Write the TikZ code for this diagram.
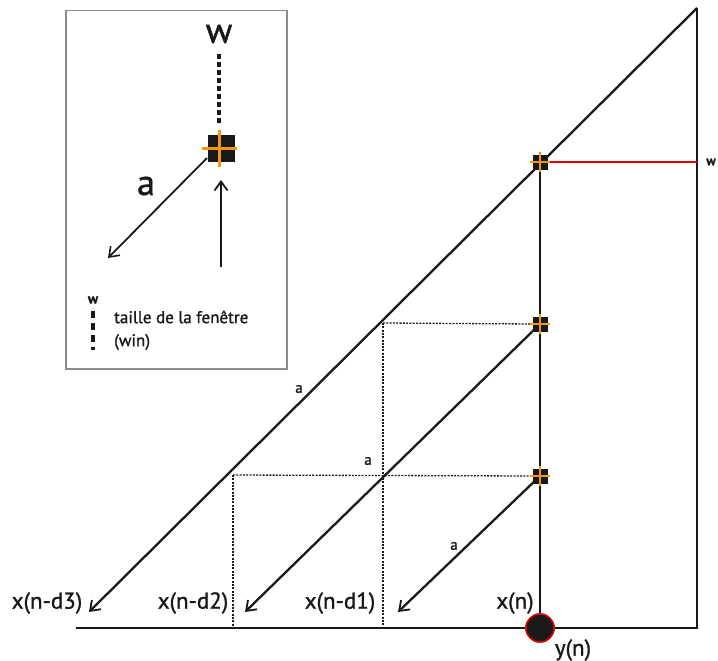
\documentclass[tikz,border=0pt]{standalone}
\usepackage{fontspec}
\setmainfont{PT Sans}[FakeBold=1.2]
\usetikzlibrary{arrows.meta}
\definecolor{mkorange}{RGB}{245,150,20}
\definecolor{ink}{RGB}{25,25,25}
\definecolor{boxgray}{RGB}{140,140,140}
\tikzset{
  mainline/.style={line width=2.3pt, ink},
  arr/.style={mainline, -{Straight Barb[length=9pt,width=13pt,line width=1.8pt]}},
  dotline/.style={line width=1.3pt, ink, dash pattern=on 2pt off 1.3pt},
  sq/.style={rectangle, fill=ink, minimum size=15pt, inner sep=0pt},
  crossline/.style={mkorange, line width=2pt},
  lab/.style={font=\fontsize{23}{23}\selectfont, text=ink, inner sep=0pt},
  smalla/.style={font=\fontsize{15}{15}\selectfont, text=ink, inner sep=0pt},
}
\begin{document}
\begin{tikzpicture}[x=1pt,y=-1pt]
\useasboundingbox (0,0) rectangle (718,661);
% ---------- inset ----------
\node[draw=boxgray, line width=1.5pt, minimum width=221pt, minimum height=358pt, anchor=north west, inner sep=0pt] (inset) at (65,10) {};
\node[font=\fontsize{36}{36}\selectfont, text=ink, inner sep=0pt] (iw) at (219,34) {w};
\node[sq, minimum size=27pt] (isq) at (221,148) {};
\coordinate (idot1) at (219,54);
\coordinate (idot2) at (219,124);
\draw[ink, line width=3.2pt, dash pattern=on 5pt off 3pt] (idot1) -- (idot2);
\coordinate (iastart) at (207,158);
\coordinate (iaend) at (108,258);
\draw[ink, line width=1.8pt, -{Straight Barb[length=9pt,width=13pt,line width=1.6pt]}] (iastart) -- (iaend);
\coordinate (ivstart) at (221,267);
\coordinate (ivend) at (221,180);
\draw[ink, line width=2.3pt, -{Straight Barb[length=9pt,width=13pt,line width=1.8pt]}] (ivstart) -- (ivend);
\draw[crossline, line width=3pt] (202,148) -- (237,148);
\draw[crossline, line width=3pt] (219,130) -- (219,167);
\node[font=\fontsize{36}{36}\selectfont, text=ink, inner sep=0pt] (ia) at (146,186) {a};
% legend
\node[font=\bfseries\fontsize{14}{14}\selectfont, text=ink, inner sep=0pt] (lw) at (93,300) {w};
\coordinate (ld1) at (93,311);
\coordinate (ld2) at (93,350);
\draw[ink, line width=4pt, dash pattern=on 7pt off 5pt] (ld1) -- (ld2);
\node[font=\fontsize{17}{17}\selectfont, text=ink, anchor=west, inner sep=0pt] (lt1) at (114,317) {taille de la fenêtre};
\node[font=\fontsize{17}{17}\selectfont, text=ink, anchor=west, inner sep=0pt] (lt2) at (114,342) {(win)};
% ---------- main diagram ----------
\coordinate (top) at (697,8);
\coordinate (bl) at (76,628);
\coordinate (br) at (697,628);
\coordinate (c1) at (383,323);
\coordinate (c2) at (233,475);
\coordinate (t3) at (89,612);
\coordinate (t2) at (245,612);
\coordinate (t1) at (398,612);
\node[sq] (m1) at (540,162) {};
\node[sq] (m2) at (540,324) {};
\node[sq] (m3) at (540,476) {};
\node[circle, fill=ink, draw=red!85!black, line width=1.5pt, minimum size=28pt, inner sep=0pt] (yc) at (540,628) {};
% dotted guides
\draw[dotline] (c1) -- (m2.west);
\draw[dotline] (c1) -- (c1 |- bl);
\draw[dotline] (c2) -- (m3.west);
\draw[dotline] (c2) -- (c2 |- bl);
% frame lines
\draw[mainline] (bl) -- (yc.west);
\draw[mainline] (yc.east) -- (br) -- (top);
\draw[mainline] (m1.center) -- (yc.north);
\draw[red!90!black, line width=2.2pt] (m1.east) -- (m1 -| br);
% diagonals
\draw[arr] (top) -- (t3);
\draw[arr] (m2.center) -- (t2);
\draw[arr] (m3.center) -- (t1);
% markers on top
\foreach \m in {m1,m2,m3}{
  \node[sq] at (\m) {};
  \draw[crossline] ([xshift=-10pt]\m.center) -- ([xshift=10pt]\m.center);
  \draw[crossline] ([yshift=-10pt]\m.center) -- ([yshift=10pt]\m.center);
}
\node[circle, fill=ink, draw=red!85!black, line width=1.5pt, minimum size=28pt, inner sep=0pt] at (yc) {};
% labels
\node[smalla] (a1) at (299,389) {a};
\node[smalla] (a2) at (368,461) {a};
\node[smalla] (a3) at (454,546) {a};
\node[font=\bfseries\fontsize{13}{13}\selectfont, text=ink, inner sep=0pt] (rw) at (711,162) {w};
\node[lab] (x3) at (47,603) {x(n-d3)};
\node[lab] (x2) at (193,603) {x(n-d2)};
\node[lab] (x1) at (340,603) {x(n-d1)};
\node[lab] (x0) at (515,603) {x(n)};
\node[lab] (y0) at (573,650) {y(n)};
\end{tikzpicture}
\end{document}
